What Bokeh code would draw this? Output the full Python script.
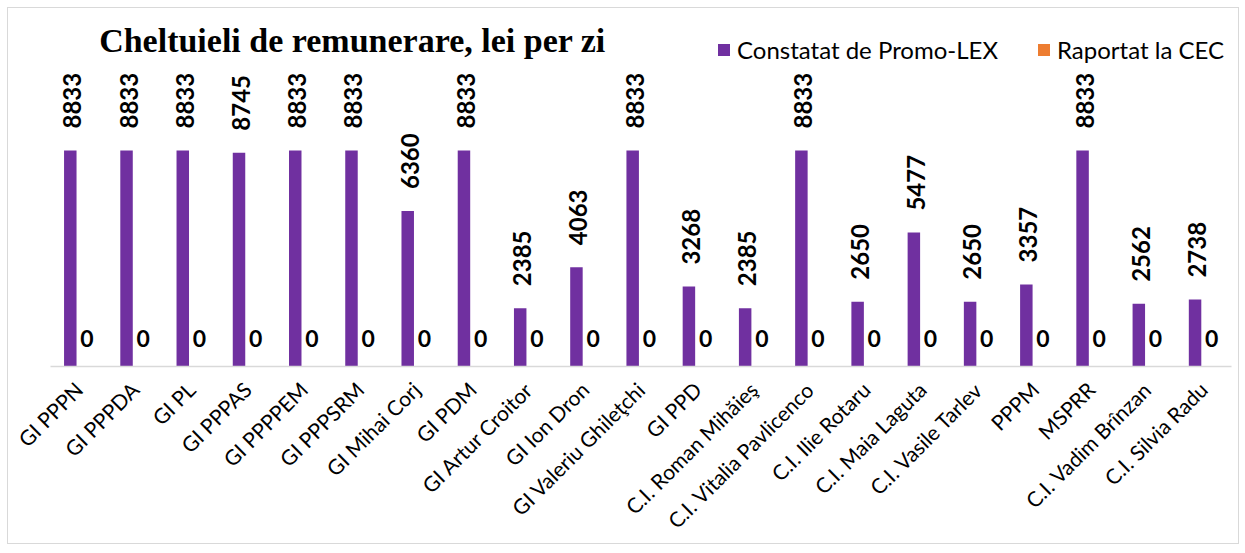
from math import pi
from bokeh.plotting import figure
from bokeh.models import ColumnDataSource, Range1d, Label, Legend, LegendItem
from bokeh.transform import dodge
from bokeh.core.properties import value
from bokeh.embed import file_html
from bokeh.resources import INLINE

categories = ["GI PPPN", "GI PPPDA", "GI PL", "GI PPPAS", "GI PPPPEM", "GI PPPSRM",
              "GI Mihai Corj", "GI PDM", "GI Artur Croitor", "GI Ion Dron",
              "GI Valeriu Ghileţchi", "GI PPD", "C.I. Roman Mihăieş",
              "C.I. Vitalia Pavlicenco", "C.I. Ilie Rotaru", "C.I. Maia Laguta",
              "C.I. Vasile Tarlev", "PPPM", "MSPRR", "C.I. Vadim Brînzan",
              "C.I. Silvia Radu"]
constatat = [8833, 8833, 8833, 8745, 8833, 8833, 6360, 8833, 2385, 4063, 8833,
             3268, 2385, 8833, 2650, 5477, 2650, 3357, 8833, 2562, 2738]
raportat = [0, 0, 0, 0, 0, 0, 0, 0, 0, 0, 0, 0, 0, 0, 0, 0, 0, 0, 0, 0, 0]
series_names = ["Constatat de Promo-LEX", "Raportat la CEC"]
title_text = "Cheltuieli de remunerare, lei per zi"

PURPLE = "#7030A0"
ORANGE = "#ED7D31"

src = ColumnDataSource(dict(
    cat=categories,
    a=constatat,
    b=raportat,
    a_lab=[str(v) for v in constatat],
    b_lab=[str(v) for v in raportat],
))

p = figure(x_range=categories, y_range=Range1d(0, 14640),
           width=1232, height=537, output_backend="svg", toolbar_location=None,
           min_border_left=42, min_border_right=9, min_border_top=0,
           min_border_bottom=179)
p.styles = {"border": "1px solid #d9d9d9", "margin": "7px 0px 0px 7px"}
p.outline_line_color = None
p.xgrid.grid_line_color = None
p.ygrid.grid_line_color = None
p.yaxis.visible = False
p.x_range.range_padding = 0

ax = p.xaxis[0]
ax.axis_line_color = "#d9d9d9"
ax.axis_line_width = 1.5
ax.major_tick_line_color = None
ax.minor_tick_line_color = None
ax.major_label_orientation = pi / 4
ax.major_label_standoff = 13
ax.major_label_text_font = "Lato"
ax.major_label_text_font_size = "21px"
ax.major_label_text_color = "#000000"

off = 0.148
bw = 0.222
r1 = p.vbar(x=dodge("cat", -off, range=p.x_range), top="a", width=bw, source=src,
            fill_color=PURPLE, line_color=None)
r2 = p.vbar(x=dodge("cat", off, range=p.x_range), top="b", width=bw, source=src,
            fill_color=ORANGE, line_color=None)

p.text(x=dodge("cat", -off, range=p.x_range), y="a", text="a_lab", source=src,
       angle=pi / 2, text_align="left", text_baseline="middle",
       x_offset=2, y_offset=-22,
       text_font=value("Lato"), text_font_style="bold",
       text_font_size="24px", text_color="#000000")
p.text(x=dodge("cat", off, range=p.x_range), y="b", text="b_lab", source=src,
       text_align="center", text_baseline="alphabetic", y_offset=-28,
       text_font=value("Lato"), text_font_style="bold",
       text_font_size="23px", text_color="#000000")

legend = Legend(items=[LegendItem(label=series_names[0], renderers=[r1]),
                       LegendItem(label=series_names[1], renderers=[r2])],
                orientation="horizontal", location=(666, 302))
legend.label_text_font = "Lato"
legend.label_text_font_size = "24px"
legend.label_text_color = "#000000"
legend.glyph_width = 15
legend.glyph_height = 15
legend.label_standoff = 6
legend.spacing = 38
legend.padding = 0
legend.margin = 0
legend.border_line_color = None
legend.background_fill_alpha = 0
p.add_layout(legend, "center")

title = Label(x=302, y=326, x_units="screen", y_units="screen", text=title_text,
              text_align="center", text_baseline="alphabetic",
              text_font="Liberation Serif", text_font_style="bold",
              text_font_size="34px", text_color="#000000")
p.add_layout(title)

open("out.html", "w").write(file_html(p, INLINE))
